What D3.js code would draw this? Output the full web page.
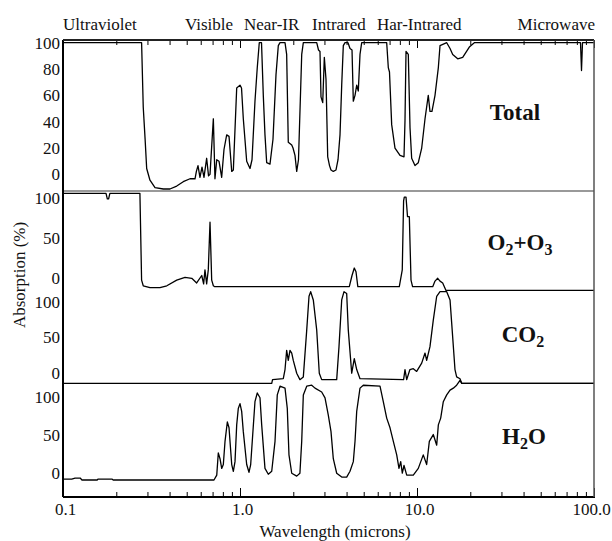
<!DOCTYPE html>
<html>
<head>
<meta charset="utf-8">
<script src="https://cdn.jsdelivr.net/npm/d3@7"></script>
<style>
  body { margin: 0; background: #fff; }
  text { font-family: "Liberation Serif", "Times New Roman", serif; fill: #111; }
</style>
</head>
<body>
<svg width="612" height="541"></svg>
<script>
// wavelength (microns), absorption (%)
const total = [[0.1,100],[0.278,100],[0.284,56],[0.291,34],[0.297,14],[0.310,6],[0.331,1],[0.369,0],[0.402,0],[0.439,2],[0.478,5],[0.522,7],[0.557,7],
  [0.567,12],[0.579,16],[0.594,8],[0.610,15],[0.626,8],[0.648,21],[0.664,9],[0.677,10],[0.707,48],[0.722,7],[0.739,20],[0.761,19],[0.788,8],
  [0.812,27],[0.841,37],[0.867,36],[0.898,12],[0.917,13],[0.958,69],[1.0,71],[1.02,69],[1.044,48],[1.091,19],[1.139,14],[1.169,20],[1.215,60],
  [1.252,83],[1.285,100],[1.323,100],[1.354,64],[1.384,37],[1.415,18],[1.477,17],[1.536,34],[1.597,78],[1.646,98],[1.683,100],[1.796,100],
  [1.835,92],[1.874,32],[1.96,30],[1.993,28],[2.045,23],[2.091,12],[2.14,20],[2.232,92],[2.279,100],[2.713,100],[2.777,95],[2.831,94],
  [2.868,63],[2.933,59],[2.995,90],[3.061,75],[3.13,22],[3.204,16],[3.267,13],[3.366,12],[3.487,13],[3.579,20],[3.673,37],[3.755,71],
  [3.834,98],[3.92,100],[4.075,100],[4.183,96],[4.294,95],[4.367,60],[4.465,64],[4.564,71],[4.66,67],[4.764,92],[4.871,100],[6.742,100],
  [6.884,83],[6.991,80],[7.194,44],[7.51,28],[8.017,23],[8.445,22],[8.555,47],[8.668,94],[8.93,92],[9.13,42],[9.33,21],[9.74,16],[10.17,18],
  [10.63,28],[11.1,48],[11.58,64],[11.84,53],[12.15,53],[12.64,64],[13.2,83],[13.49,98],[14.72,100],[15.37,96],[15.91,92],[16.98,89],
  [18.12,90],[19.75,97],[21.08,100],[83.9,100],[85.0,81],[86.1,100],[100,100]];

const o2o3 = [[0.1,100],[0.175,100],[0.178,94],[0.181,94],[0.184,100],[0.272,100],[0.278,7],[0.284,1],[0.310,-1],[0.353,-1],[0.386,1],
  [0.439,7],[0.489,10],[0.534,9],[0.569,4],[0.608,12],[0.623,3],[0.634,18],[0.648,3],[0.662,18],[0.677,69],[0.692,7],[0.707,1],[0.72,0],
  [4.145,0],[4.294,12],[4.423,20],[4.522,16],[4.631,0],[7.943,0],[8.255,18],[8.4,92],[8.477,96],[8.668,96],[8.84,75],[9.05,75],[9.25,7],
  [9.44,0],[12.27,0],[12.64,6],[13.09,9],[13.49,6],[13.97,4],[14.58,-4],[100,-4]];

const co2 = [[0.1,0],[1.511,0],[1.527,4],[1.756,5],[1.796,15],[1.835,36],[1.874,25],[1.916,36],[1.96,33],[2.0,25],[2.091,11],[2.18,4],
  [2.279,7],[2.382,58],[2.454,95],[2.508,100],[2.595,91],[2.713,58],[2.805,11],[2.894,4],[3.518,4],[3.625,40],[3.755,91],[3.869,100],
  [4.006,98],[4.091,58],[4.277,11],[4.423,27],[4.564,15],[4.764,5],[8.4,4],[8.555,15],[8.748,4],[9.12,15],[9.53,16],[9.96,13],[10.63,22],
  [11.1,33],[11.34,25],[11.84,40],[12.36,69],[12.92,95],[13.49,100],[14.72,100],[15.37,91],[15.7,66],[16.39,15],[16.75,7],[17.5,5],
  [17.89,0],[100,0]];

const h2o = [[0.1,1],[0.112,1],[0.117,2],[0.125,2],[0.128,0],[0.156,0],[0.158,1],[0.189,1],[0.192,0],[0.713,0],[0.739,5],[0.754,28],
  [0.771,22],[0.788,12],[0.805,16],[0.823,40],[0.848,60],[0.867,54],[0.878,40],[0.898,16],[0.917,9],[0.937,19],[0.958,57],[0.978,74],
  [1.0,79],[1.022,71],[1.044,50],[1.091,16],[1.124,8],[1.149,16],[1.18,47],[1.215,81],[1.252,90],[1.297,85],[1.326,57],[1.384,12],
  [1.445,6],[1.511,9],[1.577,40],[1.624,88],[1.683,97],[1.796,95],[1.85,74],[1.891,26],[1.96,7],[2.091,4],[2.18,7],[2.232,40],[2.279,88],
  [2.382,97],[2.542,98],[2.653,95],[2.894,91],[3.022,85],[3.154,67],[3.267,50],[3.366,22],[3.518,7],[3.755,3],[4.006,3],[4.183,9],
  [4.367,19],[4.465,40],[4.564,71],[4.764,95],[4.973,98],[6.18,97],[6.45,81],[6.742,64],[7.04,54],[7.35,40],[7.68,26],[7.91,12],[8.09,19],
  [8.26,7],[8.445,15],[8.748,5],[9.53,5],[10.17,12],[10.85,26],[11.34,16],[11.74,40],[12.36,47],[12.92,36],[13.2,57],[13.61,64],[14.08,81],
  [14.72,88],[15.37,93],[16.04,95],[16.75,98],[17.5,103],[17.89,100],[100,100]];

const totalTicks = [0, 20, 40, 60, 80, 100];
const gasTicks = [0, 50, 100];
const xTicks = [0.1, 1, 10, 100];
const bands = ["Ultraviolet", "Visible", "Near-IR", "Intrared", "Har-Intrared", "Microwave"];

const svg = d3.select("svg");
const plotLeft = 63, plotRight = 594, plotTop = 40, plotBottom = 497;

const x = d3.scaleLog().domain([0.1, 100]).range([plotLeft, plotRight]);

// curve: pixel range of 0..100 for the trace, labels: where the tick labels sit
const panels = [
  { data: total, ticks: totalTicks, curve: [189, 42.7], labels: [174, 43],
    name: [["Total", 0]], nx: 515, ny: 120 },
  { data: o2o3, ticks: gasTicks, curve: [286.7, 193.3], labels: [278, 198],
    name: [["O", 0], ["2", 1], ["+O", 0], ["3", 1]], nx: 520, ny: 250 },
  { data: co2, ticks: gasTicks, curve: [383.3, 291.7], labels: [373, 301.7],
    name: [["CO", 0], ["2", 1]], nx: 523, ny: 342 },
  { data: h2o, ticks: gasTicks, curve: [480, 383.3], labels: [473, 397],
    name: [["H", 0], ["2", 1], ["O", 0]], nx: 524, ny: 444 }
];

const minor = [];
[0.1, 1, 10].forEach(d => { for (let k = 2; k < 10; k++) minor.push(d * k); });

// bottom axis
svg.append("g").attr("transform", `translate(0,${plotBottom})`)
  .call(d3.axisBottom(x).tickValues(minor).tickSize(-5).tickFormat(""))
  .call(g => g.select(".domain").remove());
svg.append("g").attr("transform", `translate(0,${plotBottom})`)
  .call(d3.axisBottom(x).tickValues(xTicks).tickSize(-9).tickPadding(6).tickFormat(d3.format(".1f")))
  .call(g => g.select(".domain").remove())
  .selectAll("text").style("font-size", "17px").attr("fill", "#111")
  .attr("dx", d => d === 100 ? -3 : 2);

// top ticks
svg.append("g").attr("transform", `translate(0,${plotTop})`)
  .call(d3.axisTop(x).tickValues(minor).tickSize(-5).tickFormat(""))
  .call(g => g.select(".domain").remove());
svg.append("g").attr("transform", `translate(0,${plotTop})`)
  .call(d3.axisTop(x).tickValues(xTicks).tickSize(-8).tickFormat(""))
  .call(g => g.select(".domain").remove());

const line = d3.line();

panels.forEach(p => {
  const yc = d3.scaleLinear().domain([0, 100]).range(p.curve);
  const ya = d3.scaleLinear().domain([0, 100]).range(p.labels);

  svg.append("g").attr("transform", `translate(${plotLeft},0)`)
    .call(d3.axisLeft(ya).tickValues(p.ticks).tickSize(0).tickPadding(3))
    .call(g => g.select(".domain").remove())
    .selectAll("text").style("font-size", "17px").attr("fill", "#111");

  svg.append("path")
    .attr("d", line(p.data.map(d => [x(d[0]), yc(d[1])])))
    .attr("fill", "none")
    .attr("stroke", "#000")
    .attr("stroke-width", 1.3)
    .attr("stroke-linejoin", "round");

  const t = svg.append("text")
    .attr("x", p.nx).attr("y", p.ny)
    .attr("text-anchor", "middle")
    .style("font-size", "23px").style("font-weight", "bold");
  p.name.forEach(([s, sub], i) => {
    const prev = i > 0 ? p.name[i - 1][1] : 0;
    t.append("tspan").text(s)
      .attr("dy", sub ? 5 : (prev ? -5 : 0))
      .style("font-size", sub ? "16px" : "23px");
  });
});

// separator between total and the gases
svg.append("line").attr("x1", plotLeft).attr("x2", plotRight).attr("y1", 191).attr("y2", 191)
  .attr("stroke", "#777").attr("stroke-width", 1.5);

// frame
svg.append("line").attr("x1", plotLeft).attr("x2", plotLeft).attr("y1", plotTop).attr("y2", plotBottom)
  .attr("stroke", "#000").attr("stroke-width", 2);
svg.append("line").attr("x1", plotLeft).attr("x2", plotRight).attr("y1", plotTop).attr("y2", plotTop)
  .attr("stroke", "#222").attr("stroke-width", 2);
svg.append("line").attr("x1", plotLeft).attr("x2", plotRight + 1).attr("y1", plotBottom).attr("y2", plotBottom)
  .attr("stroke", "#000").attr("stroke-width", 2);
svg.append("line").attr("x1", plotRight).attr("x2", plotRight).attr("y1", plotTop).attr("y2", plotBottom)
  .attr("stroke", "#555").attr("stroke-width", 1.5);

// band names along the top
const bandX = [63, 185, 244, 312, 377, 595];
svg.selectAll(".band").data(bands).join("text")
  .attr("class", "band")
  .attr("x", (d, i) => bandX[i]).attr("y", 30)
  .attr("text-anchor", (d, i) => i === bands.length - 1 ? "end" : "start")
  .style("font-size", "17px")
  .text(d => d);

svg.append("text")
  .attr("transform", "translate(25,275) rotate(-90)")
  .attr("text-anchor", "middle")
  .style("font-size", "17px")
  .text("Absorption (%)");

svg.append("text")
  .attr("x", 335).attr("y", 537)
  .attr("text-anchor", "middle")
  .style("font-size", "17px")
  .text("Wavelength (microns)");
</script>
</body>
</html>
